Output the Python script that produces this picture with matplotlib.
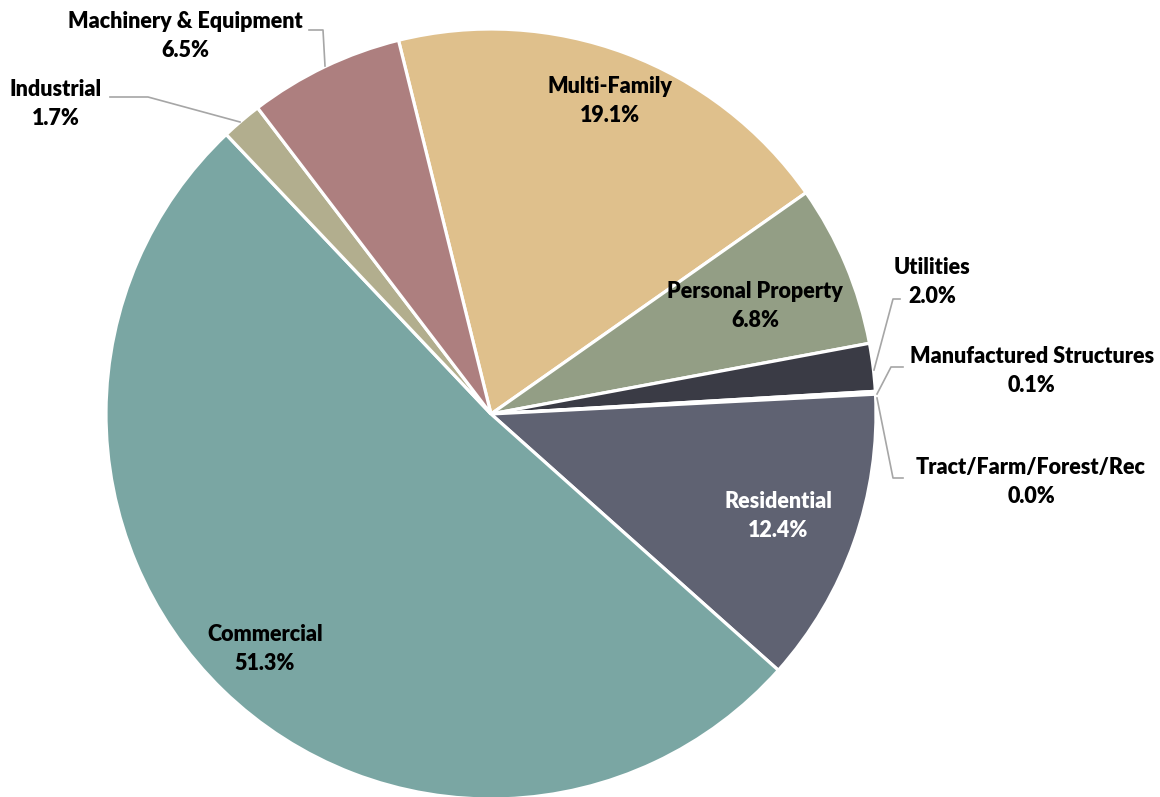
import matplotlib.pyplot as plt

# data
categories = ["Multi-Family", "Personal Property", "Utilities", "Manufactured Structures",
              "Tract/Farm/Forest/Rec", "Residential", "Commercial", "Industrial",
              "Machinery & Equipment"]
shares = [19.1, 6.8, 2.0, 0.1, 0.02, 12.4, 51.3, 1.7, 6.5]
pct_labels = ["19.1%", "6.8%", "2.0%", "0.1%", "0.0%", "12.4%", "51.3%", "1.7%", "6.5%"]
colors = ["#DFC08C", "#939E85", "#3A3B45", "#2E3039", "#5F6272", "#5F6272",
          "#7AA6A3", "#B2AE8E", "#AD7F7F"]

W, H = 1160, 797
cx, cy, r = 491, H - 414, 385

# label layout in pixel coords (y from top), text colour
label_pos = [(610, 101), (755, 306), (932, 282), (1032, 371), (1031, 482),
             (778, 516), (265, 649), (56, 104), (185, 36)]
text_colors = ["black", "black", "black", "black", "black", "white", "black", "black", "black"]

# leader lines (pixel coords, y from top)
leaders = [
    [(309, 30), (323, 30), (325, 66)],      # machinery
    [(110, 97), (148, 97), (240, 122)],     # industrial
    [(900, 299), (893, 299), (874, 370)],   # utilities
    [(903, 367), (891, 367), (877, 394)],   # manufactured
    [(903, 478), (893, 478), (877, 398)],   # tract
]

plt.rcParams['font.family'] = ['Lato', 'DejaVu Sans']

fig = plt.figure(figsize=(W / 100, H / 100), dpi=100)
ax = fig.add_axes([0, 0, 1, 1])
ax.pie(shares, colors=colors, startangle=103.9, counterclock=False,
       center=(cx, cy), radius=r,
       wedgeprops=dict(edgecolor="white", linewidth=2.3))
ax.set_xlim(0, W)
ax.set_ylim(0, H)
ax.set_aspect('equal')
ax.axis('off')

for name, pct, (x, y), c in zip(categories, pct_labels, label_pos, text_colors):
    ax.text(x, H - y, f"{name}\n{pct}", ha="center", va="center", fontsize=15.5,
            fontweight="heavy", color=c, linespacing=1.45)

for pts in leaders:
    xs = [p[0] for p in pts]
    ys = [H - p[1] for p in pts]
    ax.plot(xs, ys, color="#A6A6A6", linewidth=1.2)

fig.savefig("out.png", dpi=100)
